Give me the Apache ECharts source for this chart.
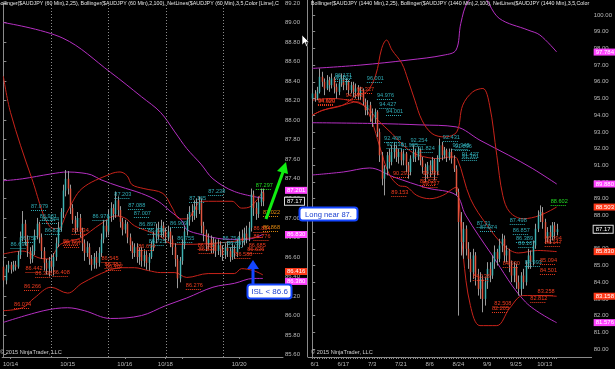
<!DOCTYPE html>
<html><head><meta charset="utf-8">
<script src="https://cdn.jsdelivr.net/npm/echarts@6/dist/echarts.min.js"></script>
<style>html,body{margin:0;padding:0;background:#000;}#c{width:615px;height:369px;}</style>
</head><body><div id="c"></div>
<script>
// ---------- LEFT PANEL (AUDJPY 60 min) ----------
const leftTickIdx = [3, 27, 51, 68, 75, 99];
const leftTickLabels = ['10/14', '10/15', '10/16', '10/18', '', '10/20'];
const leftYTicks = [85.6,85.8,86.0,86.2,86.4,86.6,86.8,87.0,87.2,87.4,87.6,87.8,88.0,88.2,88.4,88.6,88.8,89.0,89.2];
const leftSessions = [20.3, 44.2, 68.3, 92.2];
// [open, close, low, high]
const leftOHLC = [
[86.50,86.36,86.29,86.56],[86.36,86.48,86.32,86.52],[86.48,86.52,86.44,86.56],[86.52,86.47,86.43,86.55],
[86.47,86.52,86.45,86.56],[86.52,86.50,86.46,86.56],[86.50,86.62,86.48,86.66],[86.62,86.80,86.58,86.86],
[86.80,86.94,86.76,87.07],[86.94,86.78,86.72,86.98],[86.78,86.66,86.60,86.82],[86.66,86.58,86.53,86.70],
[86.58,86.66,86.54,86.72],[86.66,86.82,86.62,86.88],[86.82,86.94,86.78,87.00],[86.94,86.80,86.74,86.96],
[86.80,86.66,86.58,86.84],[86.66,86.54,86.46,86.70],[86.54,86.48,86.42,86.58],[86.48,86.56,86.40,86.60],
[86.56,86.50,86.44,86.62],[86.50,86.60,86.41,86.64],[86.60,86.74,86.56,86.80],[86.74,86.90,86.70,86.96],
[86.90,87.06,86.86,87.10],[87.06,87.28,87.00,87.34],[87.28,87.40,87.22,87.49],[87.40,87.30,87.24,87.48],
[87.30,87.10,87.04,87.34],[87.10,86.98,86.94,87.14],[86.98,86.90,86.84,87.02],[86.90,87.00,86.86,87.06],
[87.00,86.86,86.80,87.04],[86.86,86.74,86.66,86.90],[86.74,86.64,86.56,86.78],[86.64,86.70,86.60,86.76],
[86.70,86.58,86.52,86.74],[86.58,86.52,86.46,86.62],[86.52,86.60,86.48,86.64],[86.60,86.54,86.48,86.66],
[86.54,86.64,86.50,86.70],[86.64,86.78,86.60,86.84],[86.78,86.92,86.74,86.98],[86.92,86.86,86.80,86.98],
[86.86,87.02,86.82,87.08],[87.02,87.10,86.96,87.16],[87.10,87.04,86.98,87.14],[87.04,87.18,87.00,87.27],
[87.18,87.08,87.02,87.22],[87.08,86.96,86.90,87.12],[86.96,86.88,86.82,87.00],[86.88,86.94,86.84,86.98],
[86.94,86.80,86.74,86.96],[86.80,86.72,86.66,86.84],[86.72,86.64,86.58,86.76],[86.64,86.70,86.60,86.74],
[86.70,86.60,86.54,86.74],[86.60,86.66,86.52,86.70],[86.66,86.56,86.50,86.70],[86.56,86.62,86.50,86.68],
[86.62,86.54,86.47,86.66],[86.54,86.60,86.46,86.64],[86.60,86.70,86.58,86.76],[86.70,86.80,86.66,86.86],
[86.80,86.88,86.74,86.94],[86.88,86.84,86.78,86.96],[86.84,86.92,86.80,86.98],[86.92,86.86,86.80,86.96],
[86.86,86.80,86.74,86.90],[86.80,86.86,86.76,86.92],[86.86,86.78,86.70,86.90],[86.78,86.70,86.62,86.82],
[86.70,86.58,86.50,86.74],[86.58,86.38,86.28,86.62],[86.38,86.56,86.34,86.60],[86.56,86.72,86.52,86.78],
[86.72,86.86,86.68,86.92],[86.86,86.98,86.82,87.04],[86.98,87.06,86.92,87.12],[87.06,87.02,86.96,87.14],
[87.02,87.12,86.98,87.18],[87.12,87.08,87.00,87.20],[87.08,87.16,87.04,87.22],[87.16,86.92,86.84,87.20],
[86.92,86.84,86.76,86.96],[86.84,86.74,86.66,86.88],[86.74,86.78,86.68,86.84],[86.78,86.70,86.64,86.82],
[86.70,86.74,86.64,86.80],[86.74,86.66,86.60,86.78],[86.66,86.72,86.62,86.78],[86.72,86.68,86.60,86.76],
[86.68,86.62,86.56,86.72],[86.62,86.70,86.58,86.74],[86.70,86.66,86.60,86.76],[86.66,86.60,86.55,86.70],
[86.60,86.68,86.57,86.74],[86.68,86.64,86.58,86.72],[86.64,86.72,86.60,86.78],[86.72,86.80,86.68,86.86],
[86.80,86.76,86.70,86.88],[86.76,86.84,86.72,86.90],[86.84,86.80,86.74,86.92],[86.80,86.90,86.76,86.96],
[86.90,87.24,86.86,87.30],[87.24,87.10,87.02,87.28],[87.10,87.04,86.98,87.16],[87.04,87.16,87.00,87.22],
[87.16,87.26,87.12,87.30],[87.26,87.17,87.12,87.30]
];
// Bollinger bands, read at sparse bars: [barIndex, value]
const leftBB25Upper = [[0,88.45],[3,88.08],[12,87.40],[20,86.90],[23,86.89],[27,87.07],[33,87.30],[45,87.45],[49,87.47],[52,87.43],[54,87.34],[59,87.30],[67,87.25],[71,87.10],[74,86.99],[77,86.99],[80,87.07],[83,87.17],[96,87.17],[100,87.10],[104,87.12],[109,87.27]];
const leftBB25Mid = [[0,86.63],[8,86.66],[15,86.59],[19,86.58],[24,86.73],[32,86.79],[41,86.94],[47,87.02],[51,87.00],[55,86.92],[61,86.86],[66,86.81],[70,86.74],[75,86.73],[80,86.73],[88,86.74],[97,86.76],[102,86.79],[109,86.80]];
const leftBB25Lower = [[0,86.05],[8,86.08],[13,86.18],[20,86.29],[27,86.23],[33,86.33],[44,86.46],[50,86.49],[55,86.49],[61,86.46],[66,86.44],[72,86.44],[77,86.39],[86,86.43],[97,86.43],[100,86.48],[105,86.46],[109,86.416]];
const leftBB100Upper = [[0,89.00],[25,88.84],[45,88.49],[58,88.24],[66,88.08],[72,87.88],[77,87.71],[83,87.55],[88,87.40],[97,87.27],[109,87.201]];
const leftBB100Mid = [[0,87.38],[8,87.40],[20,87.45],[27,87.47],[33,87.46],[37,87.44],[41,87.39],[49,87.32],[58,87.25],[65,87.17],[70,87.07],[75,86.97],[77,86.88],[83,86.83],[90,86.79],[97,86.78],[102,86.78],[109,86.830]];
const leftBB100Lower = [[0,85.93],[17,86.05],[27,86.08],[34,86.05],[45,85.97],[58,86.00],[68,86.10],[77,86.18],[88,86.29],[97,86.33],[105,86.38],[109,86.380]];
// NetLines labels: [startBar, price, text]
const leftCyanLabels = [[11.6,87.079,'87.079'],[15.3,86.981,'86.981'],[16.2,86.944,'86.944'],[17.4,86.838,'86.838'],[7,86.757,'86.757'],[3,86.691,'86.691'],[37.4,86.978,'86.978'],[46.6,87.203,'87.203'],[52.4,87.088,'87.088'],[54.8,87.007,'87.007'],[57,86.897,'86.897'],[60.6,86.836,'86.836'],[61,86.725,'86.725'],[70,86.909,'86.909'],[73,86.755,'86.755'],[78,87.165,'87.165'],[86,87.238,'87.238'],[92,86.754,'86.754'],[94,86.697,'86.697']];
const leftRedLabels = [[28.7,86.834,'86.834'],[25,86.723,'86.723'],[25.5,86.697,'86.697'],[9.3,86.442,'86.442'],[13.4,86.396,'86.396'],[20.7,86.408,'86.408'],[8.7,86.266,'86.266'],[4.5,86.074,'86.074'],[41.2,86.545,'86.545'],[42.5,86.482,'86.482'],[43,86.462,'86.462'],[56.6,86.674,'86.674'],[76.6,86.276,'86.276'],[81.6,86.685,'86.685'],[82,86.637,'86.637'],[97.4,86.588,'86.588'],[105,86.854,'86.854'],[105,86.776,'86.776'],[103,86.685,'86.685'],[102.4,86.636,'86.636']];
const leftOrangeLabels = [[109,87.022,'87.022'],[109,86.868,'86.868']];
const leftGreenLabels = [[106,87.297,'87.297']];
// axis tags: [price, text, colour, pixel nudge]
const leftTags = [[87.201,'87.201','#ff44ff',-8],[86.830,'86.830','#ff44ff',0],[86.416,'86.416','#ff3a1a',-3],[86.380,'86.380','#ff44ff',3]];
const lastPrice = 87.17;

// ---------- RIGHT PANEL (AUDJPY daily) ----------
const rightTickIdx = [1,13,25,37,49,61,73,85,97];
const rightTickLabels = ['6/1','6/17','7/3','7/21','8/6','8/24','9/9','9/25','10/13'];
const rightYTicks = [80,81,82,83,84,85,86,87,88,89,90,91,92,93,94,95,96,97,98,99,100];
const rightOHLC = [
[95.0,95.3,94.7,95.6],[95.3,95.0,94.8,95.5],[95.0,95.4,94.9,95.7],[95.4,96.3,95.3,96.8],[96.3,96.0,95.7,96.6],
[96.0,95.6,95.2,96.2],[95.6,96.1,95.5,96.4],[96.1,95.8,95.4,96.3],[95.8,96.2,95.6,96.5],[96.2,95.7,95.3,96.3],
[95.7,95.4,95.0,95.9],[95.4,95.9,95.2,96.1],[95.9,96.2,95.7,96.5],[96.2,95.8,95.5,96.4],[95.8,96.0,95.5,96.2],
[96.0,95.5,95.2,96.1],[95.5,95.8,95.3,96.0],[95.8,95.4,95.1,96.0],[95.4,95.6,95.0,95.9],[95.6,95.2,94.9,95.8],
[95.2,95.5,94.9,95.7],[95.5,94.8,94.6,95.6],[94.8,94.3,94.0,95.0],[94.3,94.6,94.0,94.9],[94.6,94.0,93.6,94.8],
[94.0,93.8,93.3,94.4],[93.8,94.2,93.5,94.4],[94.2,93.0,92.7,94.3],[93.0,91.6,91.2,93.2],[91.6,90.2,89.8,91.8],
[90.2,90.8,89.2,91.0],[90.8,91.6,90.4,91.8],[91.6,91.2,90.8,92.0],[91.2,91.8,91.0,92.2],[91.8,92.0,91.4,92.4],
[92.0,91.5,91.2,92.2],[91.5,91.8,91.1,92.0],[91.8,91.3,91.0,92.0],[91.3,91.7,91.0,91.9],[91.7,91.0,90.6,91.8],
[91.0,90.6,90.2,91.2],[90.6,91.4,90.4,91.6],[91.4,91.8,91.2,92.2],[91.8,91.5,91.2,92.0],[91.5,91.9,91.3,92.1],
[91.9,91.3,91.0,92.0],[91.3,90.9,90.5,91.5],[90.9,90.5,90.0,91.1],[90.5,91.0,90.2,91.2],[91.0,90.7,90.3,91.3],
[90.7,91.3,90.5,91.5],[91.3,90.6,90.1,91.4],[90.6,91.4,90.4,91.6],[91.4,92.2,91.2,92.6],[92.2,91.6,91.3,92.4],
[91.6,91.9,91.4,92.1],[91.9,91.5,91.2,92.0],[91.5,91.8,91.3,92.0],[91.8,91.4,91.1,92.0],[91.4,90.8,90.6,91.6],
[90.8,89.4,89.2,91.0],[89.4,87.6,82.0,89.6],[87.6,86.4,85.6,88.2],[86.4,87.2,85.4,87.6],[87.2,86.0,85.6,87.4],
[86.0,85.4,84.8,86.4],[85.4,84.6,84.0,85.8],[84.6,85.6,84.2,86.0],[85.6,84.4,83.8,85.8],[84.4,83.6,83.2,84.8],
[83.6,84.2,83.0,84.6],[84.2,83.0,82.2,84.4],[83.0,84.0,82.6,84.3],[84.0,84.8,83.6,85.2],[84.8,84.4,84.0,85.2],
[84.4,85.2,84.2,85.6],[85.2,85.8,84.8,86.2],[85.8,85.4,85.0,86.0],[85.4,86.2,85.2,86.6],[86.2,86.6,85.8,86.9],
[86.6,85.6,85.2,86.8],[85.6,85.9,85.2,86.2],[85.9,85.0,84.6,86.0],[85.0,84.4,84.0,85.3],[84.4,84.9,84.0,85.2],
[84.9,84.0,83.6,85.1],[84.0,83.6,83.2,84.4],[83.6,84.4,83.2,84.6],[84.4,84.0,83.6,84.8],[84.0,85.0,83.8,85.3],
[85.0,85.6,84.8,86.0],[85.6,85.2,84.8,85.9],[85.2,86.2,85.0,86.5],[86.2,87.2,86.0,87.5],[87.2,88.0,87.0,88.3],
[88.0,88.2,87.6,88.6],[88.2,87.6,87.2,88.5],[87.6,86.6,86.3,87.8],[86.6,87.0,86.4,87.3],[87.0,86.7,86.3,87.4],
[86.7,87.4,86.5,87.6],[87.4,87.0,86.6,87.6],[87.0,87.17,86.8,87.5]
];
const rightBB25Upper = [[0,94.0],[4.5,94.3],[12.8,94.6],[18.7,95.2],[22.8,95.4],[26.5,96.4],[29,98.0],[31,98.5],[33.3,97.9],[37.4,97.1],[40,96.1],[42.8,94.9],[45.8,93.7],[50,92.9],[55.3,92.7],[60.3,93.0],[62.8,94.6],[67,95.4],[71.2,95.6],[74,94.6],[77,91.6],[79.5,89.2],[82.4,88.2],[88,87.8],[95,88.0],[102,88.503]];
const rightBB25Mid = [[0,94.9],[8.3,95.0],[17.8,94.8],[23.3,94.4],[27.4,93.7],[33.3,92.9],[38.7,92.1],[42.8,91.7],[47,91.5],[52.4,91.4],[58.3,91.5],[60.5,91.4],[66,89.0],[73,87.4],[80,86.2],[86,85.75],[94,85.9],[102,85.830]];
const rightBB25Lower = [[0,94.0],[4.5,94.3],[12.8,94.6],[18.7,94.8],[22,94.5],[25,93.6],[28,92.2],[32,90.5],[36,89.8],[39.5,89.7],[43.6,89.2],[49,89.0],[54.5,89.2],[58.7,89.6],[60.3,89.7],[61.2,89.0],[63,85.6],[66,82.6],[70,81.4],[77,81.4],[82.4,82.45],[88,83.2],[96,83.2],[102,83.158]];
const rightBB100Upper = [[0,96.8],[20,97.0],[40,97.3],[55,97.6],[60,97.9],[62,99.5],[65,100.8],[70,101.2],[78,99.8],[90,99.1],[95,98.8],[102,97.784]];
const rightBB100Mid = [[0,93.55],[27,93.5],[45,93.42],[60,93.3],[70,92.5],[82,91.6],[92,90.8],[102,89.880]];
const rightBB100Lower = [[0,90.42],[13,90.6],[24,90.84],[34,90.3],[48,89.64],[60,89.22],[64,88.02],[75,85.63],[89,82.81],[102,81.576]];
const rightCyanLabels = [[9.5,96.171,'96.171'],[9.5,96.021,'96.021'],[22.8,96.001,'96.001'],[27,94.976,'94.976'],[28,94.427,'94.427'],[30.8,94.001,'94.001'],[30,92.408,'92.408'],[31,92.018,'92.018'],[37,91.985,'91.985'],[44,91.824,'91.824'],[41,92.254,'92.254'],[54.5,92.431,'92.431'],[58.5,91.948,'91.948'],[59.5,91.896,'91.896'],[62.4,91.427,'91.427'],[62.4,91.301,'91.301'],[68.6,87.31,'87.31'],[70,87.074,'87.074'],[82.4,87.498,'87.498'],[83.7,86.857,'86.857'],[85,86.389,'86.389'],[86,86.107,'86.107'],[88.7,84.993,'84.993']];
const rightRedLabels = [[2.4,94.690,'94.690'],[2.4,94.620,'94.620'],[14,94.993,'94.993'],[18.7,95.327,'95.327'],[33.7,90.291,'90.291'],[46,90.281,'90.281'],[45,89.827,'89.827'],[46,89.717,'89.717'],[33,89.153,'89.153'],[79.5,84.930,'84.930'],[67,84.138,'84.138'],[76,82.508,'82.508'],[75,82.205,'82.205'],[94,83.258,'83.258'],[91,82.812,'82.812'],[95,84.501,'84.501'],[95,85.094,'85.094'],[97,86.394,'86.394'],[97,86.147,'86.147']];
const rightGreenLabels = [[99.5,88.602,'88.602']];
const rightTags = [[97.784,'97.784','#ff44ff',0],[89.880,'89.880','#ff44ff',0],[88.503,'88.503','#ff3a1a',0],[85.830,'85.830','#ff3a1a',0],[83.158,'83.158','#ff3a1a',0],[81.576,'81.576','#ff44ff',0]];

// ---------- chart ----------
const UP = '#3fb2b2', DOWN = '#e2553f', WICK = '#9a9a9a';
const RED = '#c8231a', PURPLE = '#b52fc2';
const CYAN_T = '#2fa9b3', RED_T = '#ee3b1e', GREEN_T = '#22dd22', ORANGE_T = '#e08a10';
const AXC = '#b8b8b8';
const chart = echarts.init(document.getElementById('c'), null, {renderer: 'canvas'});

function candleSeries(data, xi) {
  return {
    type: 'custom', xAxisIndex: xi, yAxisIndex: xi, z: 5,
    data: data.map((d, i) => [i, d[0], d[1], d[2], d[3]]),
    encode: {x: 0, y: [1, 2, 3, 4]},
    renderItem: function (params, api) {
      const i = api.value(0), o = api.value(1), c = api.value(2), l = api.value(3), h = api.value(4);
      const pO = api.coord([i, o]), pC = api.coord([i, c]), pL = api.coord([i, l]), pH = api.coord([i, h]);
      const w = Math.max(1, api.size([1, 0])[0] * 0.62);
      const x = Math.round(pO[0]) + 0.5;
      return {type: 'group', children: [
        {type: 'line', shape: {x1: x, y1: pL[1], x2: x, y2: pH[1]}, style: {stroke: WICK, lineWidth: 1}},
        {type: 'rect', shape: {x: x - w / 2, y: Math.min(pO[1], pC[1]), width: w, height: Math.max(1, Math.abs(pO[1] - pC[1]))},
          style: {fill: c >= o ? UP : DOWN}}
      ]};
    }
  };
}
function bandSeries(data, xi, color) {
  return {type: 'line', xAxisIndex: xi, yAxisIndex: xi, data: data, smooth: 0.35, showSymbol: false, silent: true,
    lineStyle: {color: color, width: 1}, z: 3};
}
function labelSeries(list, xi, color) {
  return {
    type: 'custom', xAxisIndex: xi, yAxisIndex: xi, z: 6,
    data: list.map(d => [d[0], d[1]]),
    encode: {x: 0, y: 1},
    renderItem: function (params, api) {
      const p = api.coord([api.value(0), api.value(1)]);
      const y = Math.round(p[1]) + 0.5;
      return {type: 'group', children: [
        {type: 'text', x: p[0], y: y - 1, style: {text: list[params.dataIndex][2], fill: color, font: '5.6px Arial, "Liberation Sans", sans-serif', textAlign: 'left', textVerticalAlign: 'bottom'}},
        {type: 'line', shape: {x1: p[0], y1: y, x2: p[0] + 16, y2: y}, style: {stroke: color, lineWidth: 1, lineDash: [1, 1]}}
      ]};
    }
  };
}
function tagSeries(tags, xi, lastVal) {
  const lbl = (txt, bg, nudge, extra) => Object.assign({show: true, position: 'end', distance: 2, formatter: txt, color: '#ffffff',
    backgroundColor: bg, padding: [1, 2, 0, 2], fontSize: 6, fontFamily: 'Arial', offset: [0, nudge]}, extra || {});
  return {
    type: 'line', xAxisIndex: xi, yAxisIndex: xi, data: [[0, lastVal]], silent: true, showSymbol: false,
    lineStyle: {opacity: 0}, z: 8,
    markLine: {
      silent: true, symbol: 'none', animation: false,
      lineStyle: {color: 'rgba(0,0,0,0)', width: 1, type: 'solid'},
      data: tags.map(t => ({yAxis: t[0], label: lbl(t[1], t[2], t[3])}))
        .concat([{yAxis: lastVal, label: lbl(lastVal.toFixed(2), '#000000', 0, {borderColor: '#dddddd', borderWidth: 1})}])
    }
  };
}
function sessionSeries(vals, xi) {
  return {type: 'line', xAxisIndex: xi, yAxisIndex: xi, data: [], silent: true,
    markLine: {silent: true, symbol: 'none', animation: false, label: {show: false},
      lineStyle: {color: '#8c8c8c', type: [1, 2], width: 1}, data: vals.map(v => ({xAxis: v}))}};
}
const yLab = {color: AXC, fontSize: 6, fontFamily: 'Arial', margin: 2};
const option = {
  backgroundColor: '#000',
  animation: false,
  grid: [
    {left: 0, right: 332, top: 0, bottom: 12},
    {left: 308, right: 23, top: 0, bottom: 12}
  ],
  xAxis: [
    {type: 'value', gridIndex: 0, min: -0.5, max: -0.5 + 283 / 2.4, splitLine: {show: false},
      axisLine: {show: true, onZero: false, lineStyle: {color: '#8a8a8a'}},
      axisTick: {show: true, customValues: leftTickIdx, length: 2, lineStyle: {color: '#8a8a8a'}},
      axisLabel: {customValues: leftTickIdx, formatter: v => leftTickLabels[leftTickIdx.indexOf(v)] || '', color: AXC, fontSize: 6, fontFamily: 'Arial', margin: 4}},
    {type: 'value', gridIndex: 1, min: -1.75, max: -1.75 + 284 / 2.4, splitLine: {show: false},
      axisLine: {show: true, onZero: false, lineStyle: {color: '#8a8a8a'}},
      axisTick: {show: true, customValues: rightOHLC.map((d, i) => i), length: 2, lineStyle: {color: '#8a8a8a'}},
      axisLabel: {customValues: rightTickIdx, formatter: v => rightTickLabels[rightTickIdx.indexOf(v)] || '', color: AXC, fontSize: 6, fontFamily: 'Arial', margin: 4}}
  ],
  yAxis: [
    {type: 'value', gridIndex: 0, position: 'right', min: 89.2 - 357 / 98.5, max: 89.2, splitLine: {show: false},
      axisLine: {show: true, lineStyle: {color: '#8a8a8a'}},
      axisTick: {show: true, customValues: leftYTicks, length: 3, lineStyle: {color: '#8a8a8a'}},
      axisLabel: Object.assign({customValues: leftYTicks, formatter: v => v.toFixed(2)}, yLab)},
    {type: 'value', gridIndex: 1, position: 'right', min: 100 - 342 / 16.7, max: 100 + 15 / 16.7, splitLine: {show: false},
      axisLine: {show: true, lineStyle: {color: '#8a8a8a'}},
      axisTick: {show: true, customValues: rightYTicks, length: 3, lineStyle: {color: '#8a8a8a'}},
      axisLabel: Object.assign({customValues: rightYTicks, formatter: v => v.toFixed(2)}, yLab)}
  ],
  series: [
    sessionSeries(leftSessions, 0),
    bandSeries(leftBB100Upper, 0, PURPLE), bandSeries(leftBB100Mid, 0, PURPLE), bandSeries(leftBB100Lower, 0, PURPLE),
    bandSeries(leftBB25Upper, 0, RED), bandSeries(leftBB25Mid, 0, RED), bandSeries(leftBB25Lower, 0, RED),
    candleSeries(leftOHLC, 0),
    labelSeries(leftCyanLabels, 0, CYAN_T), labelSeries(leftRedLabels, 0, RED_T),
    labelSeries(leftOrangeLabels, 0, ORANGE_T), labelSeries(leftGreenLabels, 0, GREEN_T),
    tagSeries(leftTags, 0, lastPrice),
    bandSeries(rightBB100Upper, 1, PURPLE), bandSeries(rightBB100Mid, 1, PURPLE), bandSeries(rightBB100Lower, 1, PURPLE),
    bandSeries(rightBB25Upper, 1, RED), bandSeries(rightBB25Mid, 1, RED), bandSeries(rightBB25Lower, 1, RED),
    candleSeries(rightOHLC, 1),
    labelSeries(rightCyanLabels, 1, CYAN_T), labelSeries(rightRedLabels, 1, RED_T), labelSeries(rightGreenLabels, 1, GREEN_T),
    tagSeries(rightTags, 1, lastPrice)
  ],
  graphic: [
    {type: 'line', shape: {x1: 307.5, y1: 0, x2: 307.5, y2: 357}, style: {stroke: '#8a8a8a', lineWidth: 1}, z: 10},
    {type: 'text', left: -3, top: 1, z: 10, style: {text: 'Bollinger($AUDJPY (60 Min),2,25), Bollinger($AUDJPY (60 Min),2,100), NetLines($AUDJPY (60 Min),3,5,Color [Lime],C', fill: '#e6e6e6', font: '5.3px Arial, sans-serif', width: 286, overflow: 'truncate', ellipsis: ''}},
    {type: 'text', left: 311, top: 1, z: 10, style: {text: 'Bollinger($AUDJPY (1440 Min),2,25), Bollinger($AUDJPY (1440 Min),2,100), NetLines($AUDJPY (1440 Min),3,5,Color', fill: '#e6e6e6', font: '5.3px Arial, sans-serif', width: 281, overflow: 'truncate', ellipsis: ''}},
    {type: 'text', left: 0, top: 349, z: 10, style: {text: '\u00a9 2015 NinjaTrader, LLC', fill: '#cfcfcf', font: '5.6px Arial, sans-serif'}},
    {type: 'text', left: 311, top: 349, z: 10, style: {text: '\u00a9 2015 NinjaTrader, LLC', fill: '#cfcfcf', font: '5.6px Arial, sans-serif'}},
    // green arrow
    {type: 'line', z: 20, shape: {x1: 266, y1: 219, x2: 283, y2: 172}, style: {stroke: '#11ee11', lineWidth: 3}},
    {type: 'polygon', z: 20, shape: {points: [[286, 162], [277, 171], [288, 174]]}, style: {fill: '#11ee11'}},
    // blue arrow
    {type: 'line', z: 20, shape: {x1: 253, y1: 287, x2: 253, y2: 268}, style: {stroke: '#1446ff', lineWidth: 3}},
    {type: 'polygon', z: 20, shape: {points: [[253, 260], [247, 269], [259, 269]]}, style: {fill: '#1446ff'}},
    // annotation boxes
    {type: 'rect', z: 21, shape: {x: 247.5, y: 284.5, width: 44, height: 14, r: 3}, style: {fill: '#ffffff', stroke: '#1446ff', lineWidth: 2}},
    {type: 'text', z: 22, x: 269.5, y: 292, style: {text: 'ISL < 86.6', fill: '#1a3fd0', font: '8px Arial, sans-serif', textAlign: 'center', textVerticalAlign: 'middle'}},
    {type: 'rect', z: 21, shape: {x: 299.5, y: 207.5, width: 58, height: 13, r: 3}, style: {fill: '#ffffff', stroke: '#1446ff', lineWidth: 2}},
    {type: 'text', z: 22, x: 328.5, y: 214.5, style: {text: 'Long near 87.', fill: '#1a3fd0', font: '7.6px Arial, sans-serif', textAlign: 'center', textVerticalAlign: 'middle'}},
    // mouse cursor
    {type: 'polygon', z: 25, shape: {points: [[302, 35], [302, 45], [304.5, 42.6], [306.3, 46.6], [307.8, 46], [306, 42.2], [309.2, 42.2]]}, style: {fill: '#ffffff', stroke: '#000', lineWidth: 0.6}}
  ]
};
chart.setOption(option);
</script></body></html>
